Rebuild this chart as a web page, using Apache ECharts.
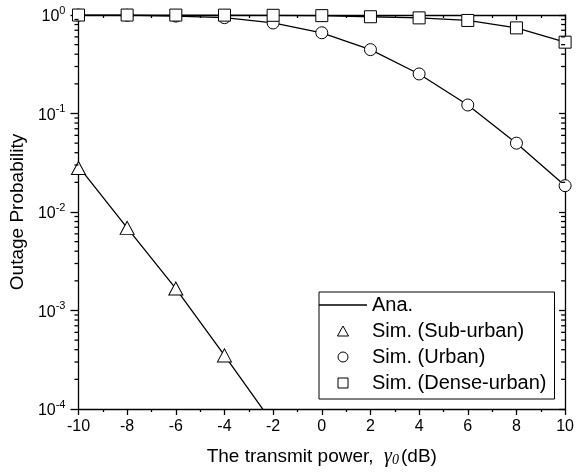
<!DOCTYPE html>
<html>
<head>
<meta charset="utf-8">
<script src="https://cdn.jsdelivr.net/npm/echarts@6/dist/echarts.min.js"></script>
<style>
html, body { margin: 0; padding: 0; background: #fff; }
#chart { width: 577px; height: 475px; }
</style>
</head>
<body>
<div id="chart"></div>
<script>
// transmit power gamma_0 (dB)
const xPower = [-10, -8, -6, -4, -2, 0, 2, 4, 6, 8, 10];

// analytical curves (Ana.)
const anaSub = [0.029, 0.0069, 0.00167, 0.00035, 0.000071];
const anaUrban = [0.998, 0.995, 0.975, 0.94, 0.83, 0.66, 0.445, 0.252, 0.122, 0.05, 0.0185];
const anaDense = [0.999, 0.999, 0.998, 0.997, 0.993, 0.985, 0.96, 0.935, 0.88, 0.74, 0.53];

// simulation points
const simSub = [0.028, 0.0069, 0.00167, 0.00035];
const simUrban = [0.998, 0.995, 0.975, 0.94, 0.83, 0.66, 0.445, 0.252, 0.122, 0.05, 0.0185];
const simDense = [0.999, 0.999, 0.998, 0.997, 0.993, 0.985, 0.96, 0.935, 0.88, 0.74, 0.53];

// log axis minor ticks
const decades = [1e-4, 1e-3, 1e-2, 1e-1];
const minorMult = [2, 3, 4, 5, 6, 7, 8, 9];

const FONT = "Liberation Sans, Arial, sans-serif";

function pairs(vals) {
  return vals.map(function (v, i) { return [xPower[i], v]; });
}

let minorY = [];
decades.forEach(function (d) {
  minorMult.forEach(function (m) { minorY.push([-10, m * d]); });
});

const chartDom = document.getElementById("chart");
const myChart = echarts.init(chartDom);

const axisLine = { show: true, onZero: false, lineStyle: { color: "#000", width: 1.3 } };

function anaLine(vals) {
  return {
    name: "Ana.",
    type: "line",
    data: pairs(vals),
    symbol: "none",
    clip: true,
    z: 2,
    lineStyle: { color: "#000", width: 1.3 },
    itemStyle: { color: "#000" },
  };
}

function simMarks(name, symbol, size, vals) {
  return {
    name: name,
    type: "scatter",
    data: pairs(vals),
    symbol: symbol,
    symbolSize: size,
    clip: true,
    z: 3,
    itemStyle: { color: "#fff", borderColor: "#000", borderWidth: 1, opacity: 1 },
  };
}

const option = {
  animation: false,
  backgroundColor: "#fff",
  textStyle: { fontFamily: FONT },
  grid: { left: 76, right: 10, top: 15, bottom: 66, containLabel: false },
  legend: {
    data: [
      { name: "Ana.", icon: "path://M0,0 L48,0 L48,1.3 L0,1.3 Z", itemStyle: { color: "#000", borderWidth: 0 } },
      { name: "Sim. (Sub-urban)", icon: "path://M5,0 L10,9 L0,9 Z" },
      { name: "Sim. (Urban)", icon: "circle" },
      { name: "Sim. (Dense-urban)", icon: "path://M0,0 L10,0 L10,10 L0,10 Z" },
    ],
    orient: "vertical",
    left: 319,
    top: 292,
    padding: [3, 8, 6, 0],
    itemWidth: 48,
    itemHeight: 10,
    itemGap: 6,
    symbolKeepAspect: true,
    borderColor: "#000",
    borderWidth: 1,
    backgroundColor: "#fff",
    itemStyle: { borderColor: "#000", borderWidth: 1, opacity: 1 },
    textStyle: { fontSize: 20, color: "#000", fontFamily: FONT },
  },
  xAxis: [
    {
      type: "value",
      min: -10,
      max: 10,
      interval: 2,
      position: "bottom",
      axisLine: axisLine,
      axisTick: { show: true, inside: false, length: 6, lineStyle: { color: "#000", width: 1.3 } },
      minorTick: { show: true, splitNumber: 2, length: 3, lineStyle: { color: "#000", width: 1.3 } },
      splitLine: { show: false },
      axisLabel: { color: "#000", fontSize: 16, margin: 10, fontFamily: FONT },
      name: "{a|The transmit power,  }{g|γ}{s|0}{a|(dB)}",
      nameLocation: "middle",
      nameGap: 38,
      nameTextStyle: {
        rich: {
          a: { fontSize: 19, color: "#000", fontFamily: FONT },
          g: { fontSize: 20, color: "#000", fontFamily: "Liberation Serif, serif", fontStyle: "italic" },
          s: { fontSize: 14, color: "#000", fontFamily: "Liberation Serif, serif", fontStyle: "italic", padding: [6, 2, 0, 0] },
        },
      },
    },
    {
      type: "value",
      min: -10,
      max: 10,
      interval: 2,
      position: "top",
      axisLine: axisLine,
      axisTick: { show: true, inside: true, length: 5, lineStyle: { color: "#000", width: 1.3 } },
      minorTick: { show: true, splitNumber: 2, length: 3, lineStyle: { color: "#000", width: 1.3 } },
      splitLine: { show: false },
      axisLabel: { show: false },
    },
  ],
  yAxis: [
    {
      type: "log",
      logBase: 10,
      min: 1e-4,
      max: 1,
      position: "left",
      axisLine: axisLine,
      axisTick: { show: true, inside: false, length: 8, lineStyle: { color: "#000", width: 1.3 } },
      splitLine: { show: false },
      axisLabel: {
        margin: 13,
        color: "#000",
        formatter: function (v) {
          const e = Math.round(Math.log10(v));
          return "{b|10}{s|" + e + "}";
        },
        rich: {
          b: { fontSize: 16, color: "#000", fontFamily: FONT, verticalAlign: "bottom", lineHeight: 20 },
          s: { fontSize: 11, color: "#000", fontFamily: FONT, verticalAlign: "top", lineHeight: 20 },
        },
      },
      name: "Outage Probability",
      nameLocation: "middle",
      nameGap: 48,
      nameTextStyle: { fontSize: 19, color: "#000", fontFamily: FONT },
    },
    {
      type: "log",
      logBase: 10,
      min: 1e-4,
      max: 1,
      position: "right",
      axisLine: axisLine,
      axisTick: { show: true, inside: true, length: 6, lineStyle: { color: "#000", width: 1.3 } },
      splitLine: { show: false },
      axisLabel: { show: false },
    },
  ],
  series: [
    anaLine(anaSub),
    anaLine(anaUrban),
    anaLine(anaDense),
    simMarks("Sim. (Sub-urban)", "triangle", [14, 13], simSub),
    simMarks("Sim. (Urban)", "circle", 12, simUrban),
    simMarks("Sim. (Dense-urban)", "rect", 12, simDense),
    {
      // minor ticks of the log axis (left outward, right inward)
      type: "custom",
      silent: true,
      clip: false,
      z: 5,
      data: minorY,
      renderItem: function (params, api) {
        const v = api.value(1);
        const pl = api.coord([-10, v]);
        const pr = api.coord([10, v]);
        return {
          type: "group",
          children: [
            { type: "line", shape: { x1: pl[0] - 4, y1: pl[1], x2: pl[0], y2: pl[1] }, style: { stroke: "#000", lineWidth: 1.3 } },
            { type: "line", shape: { x1: pr[0] - 4, y1: pr[1], x2: pr[0], y2: pr[1] }, style: { stroke: "#000", lineWidth: 1.3 } },
          ],
        };
      },
    },
  ],
};

option && myChart.setOption(option, true);
</script>
</body>
</html>
